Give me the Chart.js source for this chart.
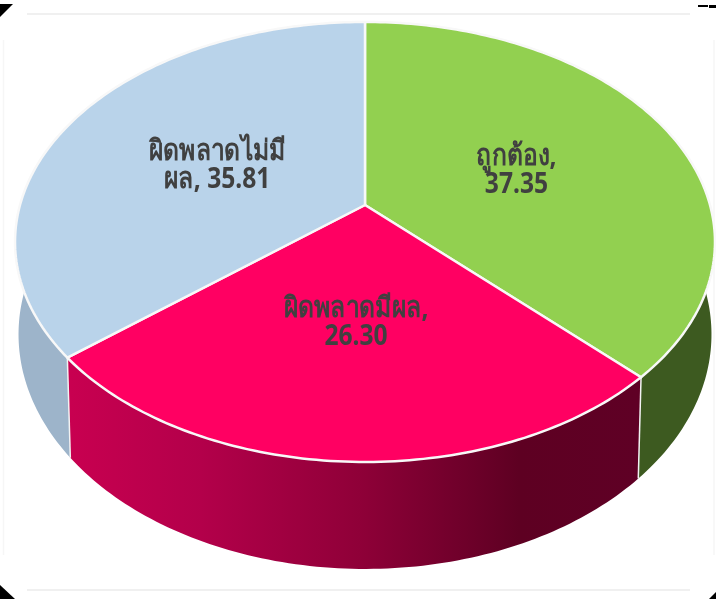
<!DOCTYPE html>
<html>
<head>
<meta charset="utf-8">
<style>
  body { margin: 0; background: #fff; }
  canvas { display: block; }
</style>
<script src="https://cdn.jsdelivr.net/npm/chart.js@4/dist/chart.umd.min.js"></script>
</head>
<body>
<canvas id="pie" width="716" height="599"></canvas>
<script>
const categories = ['ถูกต้อง', 'ผิดพลาดมีผล', 'ผิดพลาดไม่มีผล'];
const values = [37.35, 26.30, 35.81];
// where each label wraps: how many characters of the name stay on line one
const wrapAt = [null, null, 12];

const topColors = ['#92d050', '#ff0062', '#b9d3ea'];
const wallColors = ['#3d5a20', null, '#9db4ca'];
const redWallStops = [[0, '#c80050'], [0.23, '#b3004a'], [0.51, '#8f0038'], [0.72, '#6a0028'], [0.79, '#5e0022'], [1, '#5f0025']];

// perspective of the disc, fitted by eye to the picture
const view = { cx: 365, cy: 205, a: 345, b: 213.8, k: 0.168 };
const lowerRim = { sx: 0.99, sy: 1.066, dy: 90 };

function project(r, angle, rim) {
  const u = r * Math.cos(angle);
  const v = r * Math.sin(angle);
  const w = 1 - view.k * v;
  const sx = rim ? rim.sx : 1;
  const sy = rim ? rim.sy : 1;
  const dy = rim ? rim.dy : 0;
  return [view.cx + sx * view.a * u / w, view.cy + dy + sy * view.b * v / w];
}

function rimPoints(start, end, rim) {
  const steps = Math.ceil((end - start) / (Math.PI / 180));
  const pts = [];
  for (let i = 0; i <= steps; i++) {
    pts.push(project(1, start + (end - start) * i / steps, rim));
  }
  return pts;
}

function labelLines(i) {
  const name = categories[i];
  const num = values[i].toFixed(2);
  if (wrapAt[i] === null) return [name + ',', num];
  return [name.slice(0, wrapAt[i]), name.slice(wrapAt[i]) + ', ' + num];
}

const pie3d = {
  id: 'pie3d',
  beforeDraw(chart) {
    const ctx = chart.ctx;
    ctx.save();
    // faint frame of the pasted picture and its clipped corners
    ctx.lineWidth = 1.5;
    ctx.strokeStyle = '#ececec';
    ctx.beginPath();
    ctx.moveTo(27, 14); ctx.lineTo(690, 14);
    ctx.moveTo(27, 590); ctx.lineTo(690, 590);
    ctx.stroke();
    ctx.strokeStyle = '#f6f6f6';
    ctx.beginPath();
    ctx.moveTo(3.5, 40); ctx.lineTo(3.5, 555);
    ctx.moveTo(714, 40); ctx.lineTo(714, 555);
    ctx.stroke();
    ctx.fillStyle = '#000';
    [[0, 17, 0, 4, 13, 4], [0, 585, 0, 599, 15, 599], [709, 599, 716, 592, 716, 599]].forEach(t => {
      ctx.beginPath();
      ctx.moveTo(t[0], t[1]);
      ctx.lineTo(t[2], t[3]);
      ctx.lineTo(t[4], t[5]);
      ctx.fill();
    });
    ctx.fillRect(698, 5, 10, 2);
    ctx.fillRect(709, 5, 7, 3);
    ctx.restore();
  },
  beforeDatasetDraw(chart) {
    const ctx = chart.ctx;
    const arcs = chart.getDatasetMeta(0).data;
    ctx.save();
    ctx.lineJoin = 'round';

    // walls first, the red front one last
    [2, 0, 1].forEach(i => {
      const arc = arcs[i];
      const up = rimPoints(arc.startAngle, arc.endAngle);
      const low = rimPoints(arc.startAngle, arc.endAngle, lowerRim);
      ctx.beginPath();
      up.forEach((p, n) => n ? ctx.lineTo(p[0], p[1]) : ctx.moveTo(p[0], p[1]));
      low.reverse().forEach(p => ctx.lineTo(p[0], p[1]));
      ctx.closePath();
      if (wallColors[i]) {
        ctx.fillStyle = wallColors[i];
      } else {
        const xs = low.map(p => p[0]);
        const grad = ctx.createLinearGradient(Math.min(...xs), 0, Math.max(...xs), 0);
        redWallStops.forEach(s => grad.addColorStop(s[0], s[1]));
        ctx.fillStyle = grad;
      }
      ctx.fill();
    });

    // white seams between the walls
    ctx.strokeStyle = '#f2f2f2';
    ctx.lineWidth = 1.5;
    [arcs[1].startAngle, arcs[1].endAngle].forEach(angle => {
      const a = project(1, angle);
      const b = project(1, angle, lowerRim);
      ctx.beginPath();
      ctx.moveTo(a[0], a[1]);
      ctx.lineTo(b[0], b[1]);
      ctx.stroke();
    });

    // top faces
    arcs.forEach(arc => {
      const pts = rimPoints(arc.startAngle, arc.endAngle);
      ctx.beginPath();
      ctx.moveTo(view.cx, view.cy);
      pts.forEach(p => ctx.lineTo(p[0], p[1]));
      ctx.closePath();
      ctx.fillStyle = arc.options.backgroundColor;
      ctx.fill();
      ctx.strokeStyle = '#f8f8f8';
      ctx.lineWidth = 2.5;
      ctx.stroke();
    });

    // data labels, squeezed sideways because no narrow Thai face is installed
    ctx.fillStyle = '#404040';
    ctx.textAlign = 'center';
    ctx.textBaseline = 'middle';
    ctx.font = 'bold 29px "Noto Sans", sans-serif';
    arcs.forEach((arc, i) => {
      const mid = project(0.49, (arc.startAngle + arc.endAngle) / 2);
      labelLines(i).forEach((line, n) => {
        ctx.save();
        ctx.translate(mid[0], mid[1] + 4 + (n - 0.5) * 28);
        ctx.scale(0.85, 1);
        ctx.fillText(line, 0, 0);
        ctx.restore();
      });
    });
    ctx.restore();
    return false;
  }
};

new Chart(document.getElementById('pie'), {
  type: 'pie',
  data: {
    labels: categories,
    datasets: [{ data: values, backgroundColor: topColors, borderWidth: 0 }]
  },
  options: {
    responsive: false,
    animation: false,
    plugins: { legend: { display: false }, tooltip: { enabled: false } }
  },
  plugins: [pie3d]
});
</script>
</body>
</html>
